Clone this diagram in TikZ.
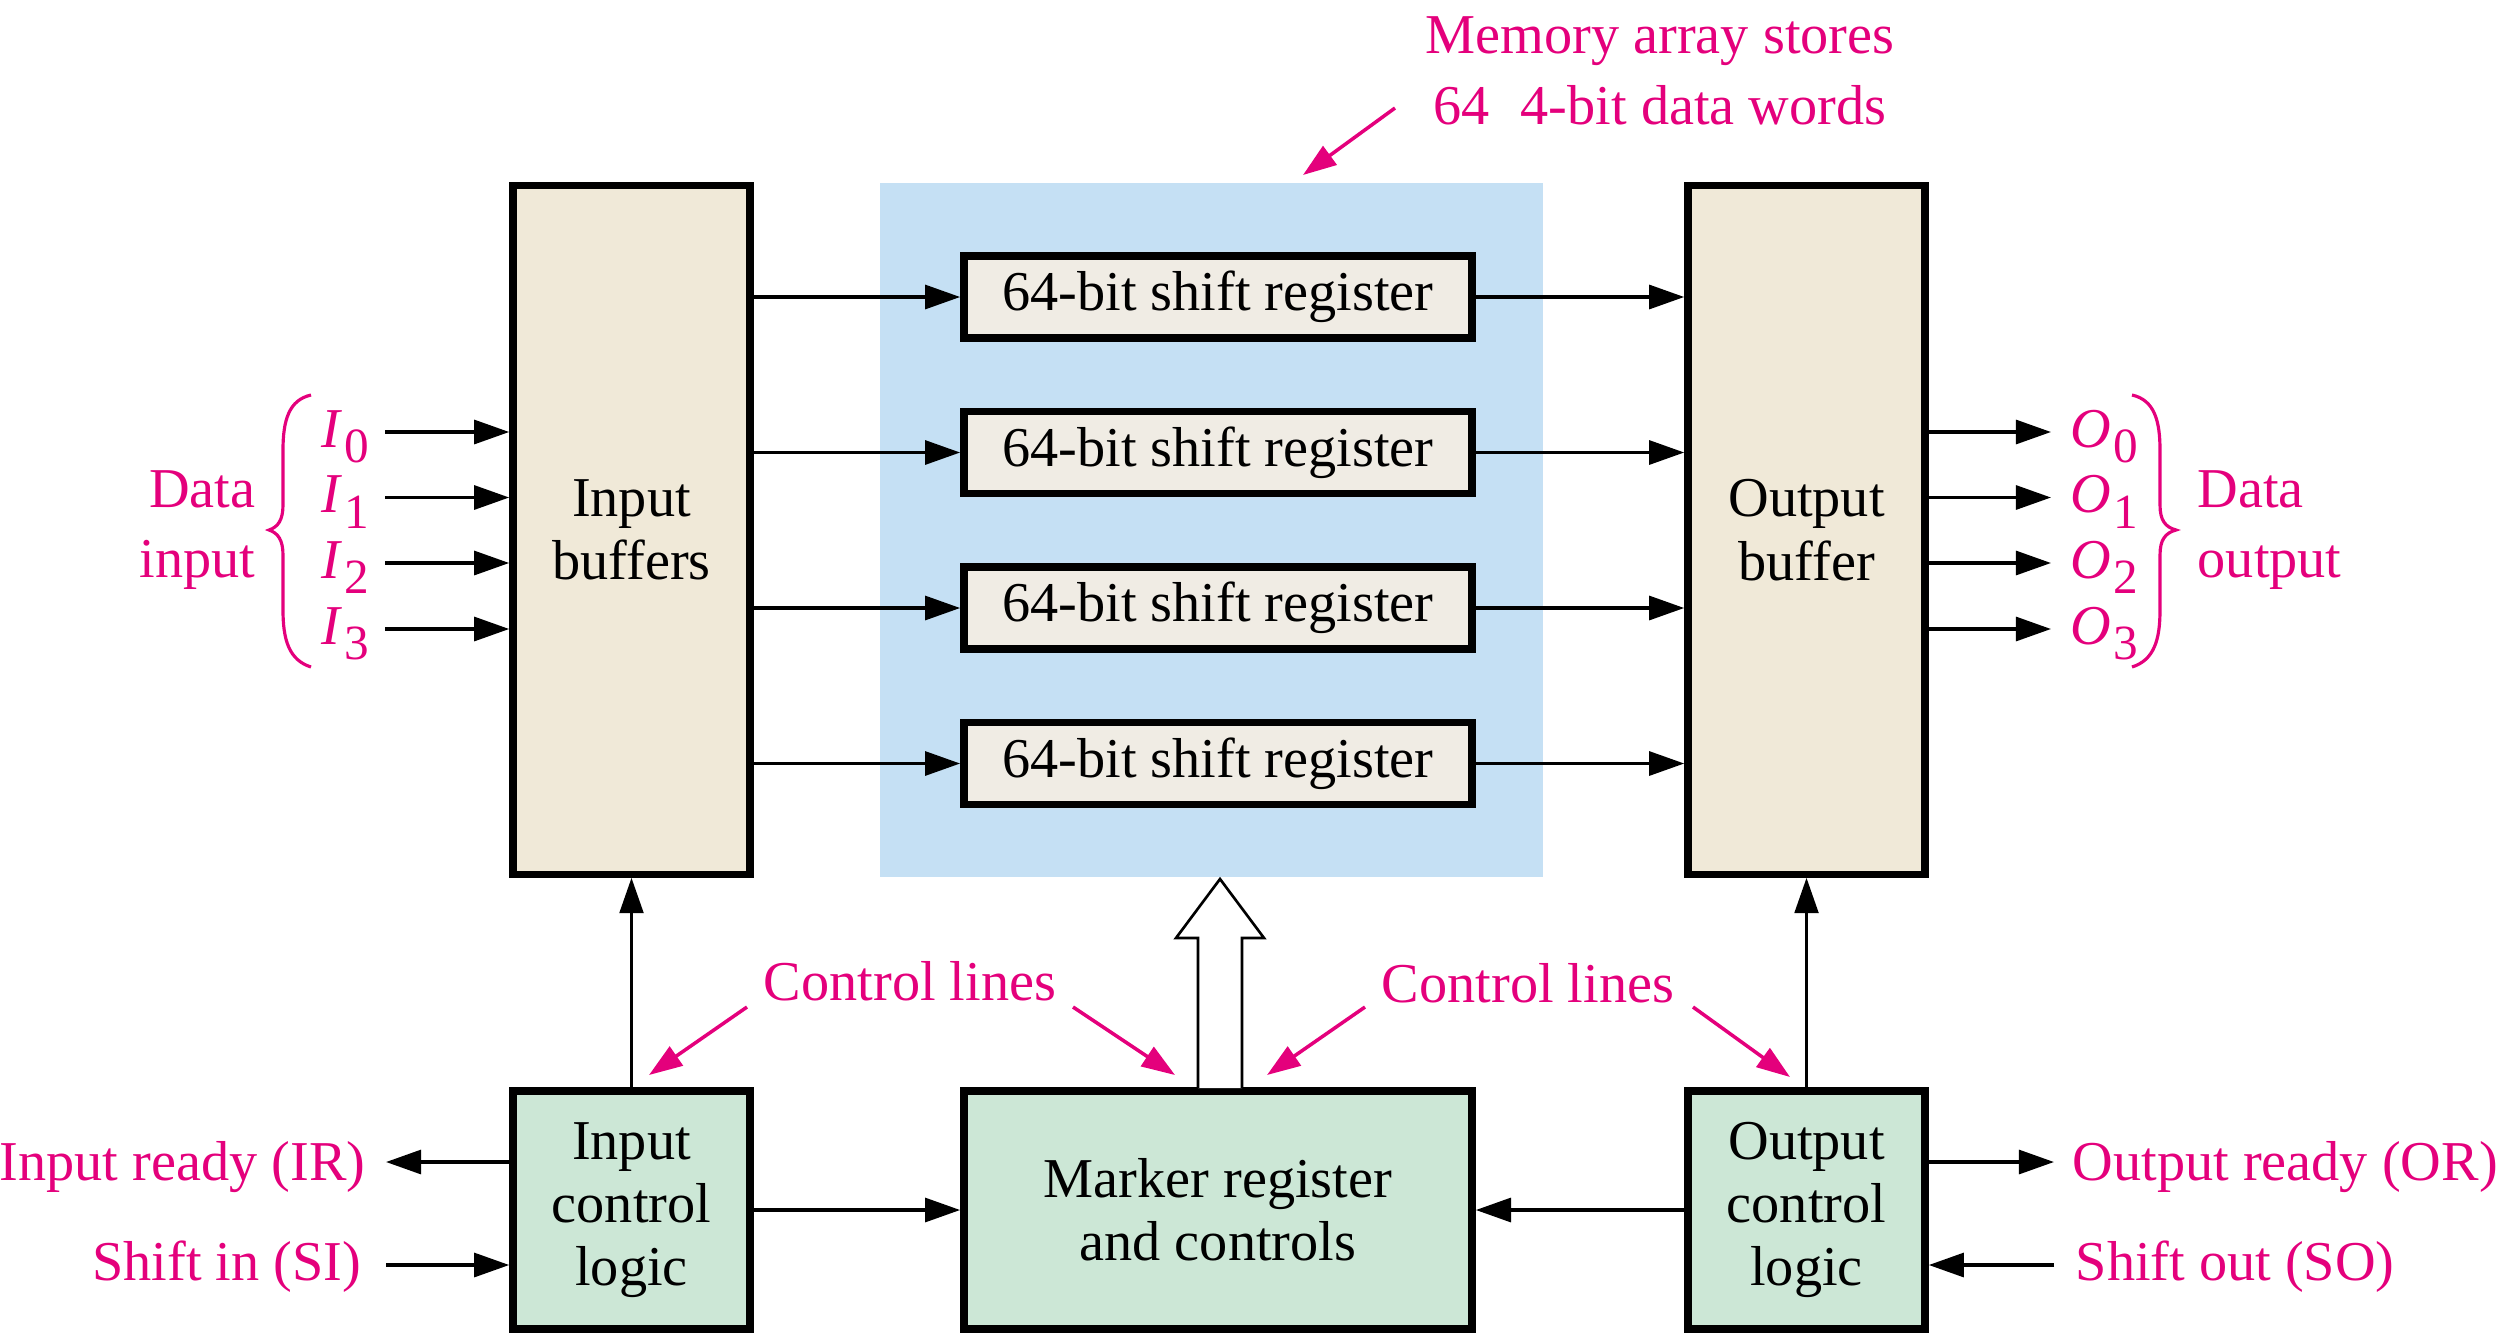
\documentclass[tikz,border=0pt]{standalone}
\usepackage{fontspec}
\setmainfont{Liberation Serif}
\usetikzlibrary{arrows.meta,calc}
\definecolor{annot}{RGB}{228,0,124}
\definecolor{bluec}{RGB}{197,224,244}
\definecolor{bufc}{RGB}{240,233,216}
\definecolor{srfill}{RGB}{240,236,228}
\definecolor{ctlc}{RGB}{204,231,214}
\newcommand\sublbl[2]{\textit{#1}\kern0.5pt\raisebox{-4.5pt}{\fontsize{14}{14}\selectfont #2}}
\begin{document}
\begin{tikzpicture}[x=0.01cm,y=-0.01cm,
  font=\fontsize{16}{18}\selectfont,
  box/.style={draw=black, line width=2.1pt, inner sep=0pt, align=center},
  buf/.style={box, fill=bufc, minimum width=2.37cm, minimum height=6.88cm},
  srbox/.style={box, fill=srfill, minimum width=5.08cm, minimum height=0.82cm},
  ctl/.style={box, fill=ctlc, minimum height=2.38cm},
  arr/.style={line width=1pt, -{Triangle[length=10pt,width=6.8pt]}},
  varr/.style={line width=0.65pt, -{Triangle[length=10pt,width=6.8pt]}},
  parr/.style={draw=annot, line width=1pt, -{Triangle[length=9.5pt,width=6.5pt]}},
  lbl/.style={text=annot, inner sep=0pt, font=\fontsize{16}{20}\selectfont},
  brc/.style={draw=annot, line width=0.9pt}]
\useasboundingbox (0,0) rectangle (2500,1336);

% memory array background
\node[fill=bluec, minimum width=6.63cm, minimum height=6.94cm, inner sep=0pt] (mem) at (1211.5,530) {};

% buffers
\node[buf] (inbuf) at (631.5,530) {Input\\buffers};
\node[buf] (outbuf) at (1806.5,530) {Output\\buffer};

% shift registers
\foreach \i/\y in {1/297,2/452.5,3/608,4/763.5}
  \node[srbox] (sr\i) at (1218,\y) {64-bit shift register};

% control blocks
\node[ctl, minimum width=2.37cm] (icl) at (631.5,1210) {Input\\control\\logic};
\node[ctl, minimum width=5.08cm] (mrk) at (1218,1210) {Marker register\\and controls};
\node[ctl, minimum width=2.37cm] (ocl) at (1806.5,1210) {Output\\control\\logic};

% data paths
\foreach \i in {1,...,4} {
  \draw[arr] (inbuf.east |- sr\i.west) -- (sr\i.west);
  \draw[arr] (sr\i.east) -- (outbuf.west |- sr\i.east);
}

% inputs and outputs
\foreach \k/\y in {0/432,1/497.5,2/563,3/629} {
  \coordinate (in\k) at (385,\y);
  \node[lbl, anchor=base west] (il\k) at (321,\y+15) {\sublbl{I}{\k}};
  \draw[arr] (in\k) -- (inbuf.west |- in\k);
  \coordinate (out\k) at (2051,\y);
  \node[lbl, anchor=base west] (ol\k) at (2070,\y+15) {\sublbl{O}{\k}};
  \draw[arr] (outbuf.east |- out\k) -- (out\k);
}

% braces
\draw[brc] (311,395) .. controls (289,400) and (283,420) .. (283,450)
  -- (283,505) .. controls (283,520) and (278,527) .. (269,530)
  .. controls (278,533) and (283,540) .. (283,555)
  -- (283,610) .. controls (283,640) and (289,660) .. (311,667);
\draw[brc] (2132,395) .. controls (2154,400) and (2160,420) .. (2160,450)
  -- (2160,505) .. controls (2160,520) and (2165,527) .. (2176,530)
  .. controls (2165,533) and (2160,540) .. (2160,555)
  -- (2160,610) .. controls (2160,640) and (2154,660) .. (2132,667);

\node[lbl, align=right, anchor=east] (din) at (256,530) {Data\\input};
\node[lbl, align=left, anchor=west] (dout) at (2197,530) {Data\\output};

% control paths
\draw[varr] (icl.north) -- (inbuf.south);
\draw[varr] (ocl.north) -- (outbuf.south);
\draw[arr] (icl.east) -- (mrk.west);
\draw[arr] (ocl.west) -- (mrk.east);

% hollow arrow
\draw[line width=0.75pt, fill=white] (1198,1088) -- (1198,938) -- (1176,938) -- (1220,879)
  -- (1264,938) -- (1242,938) -- (1242,1088);

% handshake signals
\coordinate (irT) at (386,1162);
\coordinate (siS) at (386,1265);
\coordinate (orT) at (2054,1162);
\coordinate (soS) at (2054,1265);
\draw[arr] (icl.west |- irT) -- (irT);
\draw[arr] (siS) -- (icl.west |- siS);
\draw[arr] (ocl.east |- orT) -- (orT);
\draw[arr] (soS) -- (ocl.east |- soS);
\node[lbl, anchor=base east] (ir) at (366,1180) {Input ready (IR)};
\node[lbl, anchor=base east] (si) at (362,1280) {Shift in (SI)};
\node[lbl, anchor=base west] (or) at (2072,1180) {Output ready (OR)};
\node[lbl, anchor=base west] (so) at (2075,1280) {Shift out (SO)};

% annotations
\node[lbl, anchor=base] (cl1) at (910,1000) {Control lines};
\node[lbl, anchor=base] (cl2) at (1528,1002) {Control lines};
\coordinate (a1s) at (747,1007); \coordinate (a1e) at (649,1075);
\coordinate (a2s) at (1073,1007); \coordinate (a2e) at (1175,1075);
\coordinate (a3s) at (1365,1007); \coordinate (a3e) at (1267,1075);
\coordinate (a4s) at (1693,1007); \coordinate (a4e) at (1790,1077);
\draw[parr] (a1s) -- (a1e);
\draw[parr] (a2s) -- (a2e);
\draw[parr] (a3s) -- (a3e);
\draw[parr] (a4s) -- (a4e);

\node[lbl, align=center] (memlbl) at (1660,71) {Memory array stores\\64\hspace{0.55em}4-bit data words};
\coordinate (m1s) at (1395,108); \coordinate (m1e) at (1303,175);
\draw[parr] (m1s) -- (m1e);
\end{tikzpicture}
\end{document}
